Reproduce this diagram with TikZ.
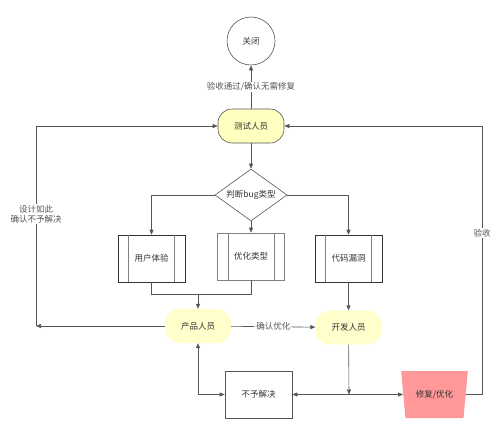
\documentclass[tikz,border=0pt]{standalone}
\usepackage{xcolor}
\usepackage{tikz}
\usepackage{fontspec}
\usetikzlibrary{shapes.geometric, arrows.meta, positioning}
\newfontfamily\cjk{Noto Sans CJK SC}
\definecolor{bgline}{HTML}{555555}
\definecolor{bgtext}{HTML}{333333}
\definecolor{bgyellow}{HTML}{FFFFC0}
\definecolor{bgpale}{HTML}{FFFFCC}
\definecolor{bgred}{HTML}{FF9999}

\begin{document}
\begin{tikzpicture}[
    x=1pt, y=-1pt,
    font=\cjk\fontsize{8.5}{10}\selectfont, text=bgtext,
    role/.style={rectangle, rounded corners=14pt, fill=#1, minimum width=66pt, minimum height=34pt, align=center},
    procbox/.style={rectangle, draw=#1, line width=0.6pt, minimum width=67pt, minimum height=47pt, align=center},
    arrow/.style={-{Triangle[length=5pt, width=4pt]}, line width=0.6pt, color=bgline},
    lbl/.style={fill=white, inner sep=1pt, align=center}
]
\useasboundingbox (0,0) rectangle (500,434);

\node[circle, draw=bgline, line width=0.6pt, minimum size=48pt, inner sep=0pt] (close) at (251,41) {关闭};
\node[role=bgyellow, draw=bgline, line width=0.6pt] (test) at (251,126) {测试人员};
\node[diamond, draw=bgline, line width=0.6pt, aspect=1.4, inner sep=0pt, minimum width=72pt, minimum height=52pt] (judge) at (251,195) {判断bug类型};

\node[procbox=bgtext] (ux) at (151.5,258.5) {用户体验};
\node[procbox=gray] (opt) at (251,256.5) {优化类型};
\node[procbox=bgtext] (bug) at (348.5,258.5) {代码漏洞};
\foreach \n in {ux, opt, bug} {
    \draw[gray, line width=0.6pt] ([xshift=11pt]\n.north west) -- ([xshift=11pt]\n.south west);
    \draw[gray, line width=0.6pt] ([xshift=-11pt]\n.north east) -- ([xshift=-11pt]\n.south east);
}

\node[role=bgpale] (prod) at (198,326) {产品人员};
\node[role=bgpale] (dev) at (348.5,327.5) {开发人员};
\node[rectangle, draw=bgline, line width=0.6pt, minimum width=67pt, minimum height=47pt] (reject) at (258.5,394.5) {不予解决};
\node[trapezium, trapezium left angle=102, trapezium right angle=102, trapezium stretches=true, fill=bgred, minimum width=67pt, minimum height=47pt] (fix) at (434.5,394.5) {修复/优化};

\coordinate (merge) at (198,294);
\coordinate (lcorner) at (36,326);
\coordinate (split) at (349,394.5);
\coordinate (rcorner) at (482,394.5);

\draw[arrow] (test) -- node[lbl] {验收通过/确认无需修复} (close);
\draw[arrow] (test) -- (judge);
\draw[arrow] (judge.west) -| (ux);
\draw[arrow] (judge.east) -| (bug);
\draw[arrow] (judge) -- (opt);

\draw[line width=0.6pt, bgline] (ux.south) |- (merge);
\draw[line width=0.6pt, bgline] (opt.south) |- (merge);
\draw[arrow] (merge) -- (prod);
\draw[arrow] (bug) -- (dev);

\draw[arrow] (prod) -- node[lbl] {确认优化} (dev);
\draw[arrow] (prod) -- (lcorner);
\draw[arrow] (lcorner) |- node[lbl, pos=0.28] {设计如此\\确认不予解决} (test);

\draw[arrow] (dev) -- (split);
\draw[arrow] (split) -- (reject);
\draw[arrow] (split) -- (fix);
\draw[arrow, {Triangle[length=5pt, width=4pt]}-{Triangle[length=5pt, width=4pt]}] (reject.west) -| (prod.south);

\draw[line width=0.6pt, bgline] (fix.east) -- (rcorner);
\draw[arrow] (rcorner) |- node[lbl, pos=0.3] {验收} (test);

\end{tikzpicture}
\end{document}
